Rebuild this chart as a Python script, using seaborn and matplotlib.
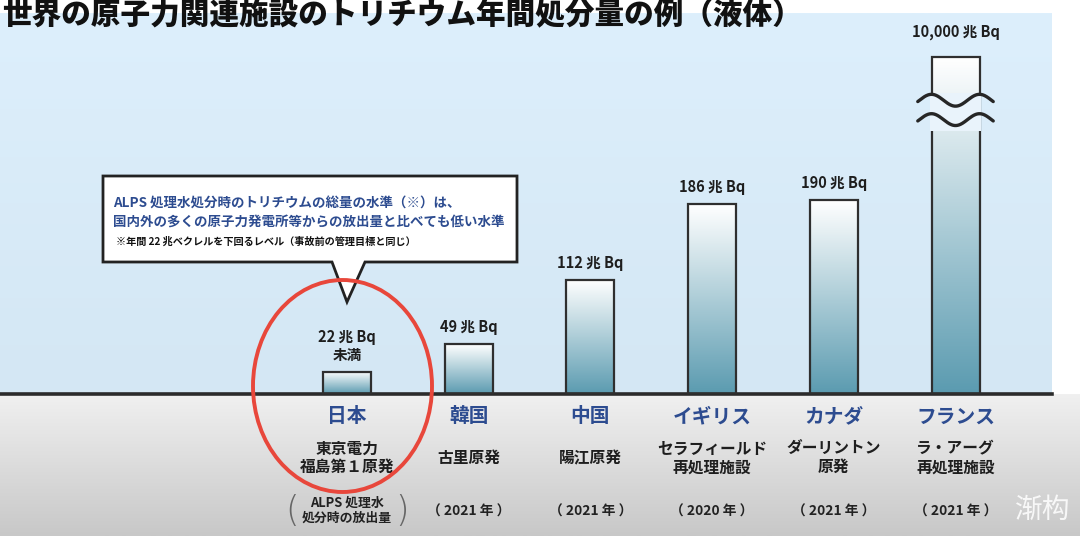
import numpy as np
import matplotlib
matplotlib.use("Agg")  # headless
import matplotlib.pyplot as plt
from matplotlib.colors import LinearSegmentedColormap
from matplotlib.patches import Rectangle, Ellipse, Polygon
import seaborn as sns

sns.set_style("white")
plt.rcParams["font.family"] = ["Noto Sans CJK JP", "DejaVu Sans"]

# ---- data ---------------------------------------------------------------
TITLE = "世界の原子力関連施設のトリチウム年間処分量の例（液体）"
countries = ["日本", "韓国", "中国", "イギリス", "カナダ", "フランス"]
facilities = ["東京電力\n福島第１原発", "古里原発", "陽江原発",
              "セラフィールド\n再処理施設", "ダーリントン\n原発", "ラ・アーグ\n再処理施設"]
periods = ["ALPS 処理水\n処分時の放出量", "（ 2021 年 ）", "（ 2021 年 ）",
           "（ 2020 年 ）", "（ 2021 年 ）", "（ 2021 年 ）"]
tritium_tbq = [22, 49, 112, 186, 190, 10000]   # 兆Bq / year
value_notes = ["未満", "", "", "", "", ""]
callout_lines = ["ALPS 処理水処分時のトリチウムの総量の水準（※）は、",
                 "国内外の多くの原子力発電所等からの放出量と比べても低い水準"]
footnote = "※年間 22 兆ベクレルを下回るレベル（事故前の管理目標と同じ）"

AXIS_BREAK = 330          # taller bars are cut and drawn with a wave break
BREAK_GAP = (258, 295)    # cut-out band on the broken bar (data units)

# ---- layout (pixels) ----------------------------------------------------
W, H = 1080, 536
PX_PER_UNIT = 1.02
AX_R, AX_T, AX_B = 1052, 13, 394
SLOT = 121.7               # px between bar centres
FIRST = 347                # px of first bar centre
BAR_W = 48 / SLOT

BLUE_TOP, BLUE_BOT = "#ddeffc", "#d4e7f4"
TEAL = "#5b9bb0"
NAVY = "#2d4c90"
INK = "#1e1e1e"

shown = [min(v, AXIS_BREAK) for v in tritium_tbq]

fig = plt.figure(figsize=(W / 100, H / 100), dpi=100)

# background: blue plot area + grey floor
bg = fig.add_axes([0, 0, 1, 1], zorder=0)
ramp = np.linspace(0, 1, 128).reshape(-1, 1)
bg.imshow(ramp, cmap=LinearSegmentedColormap.from_list("b", [BLUE_TOP, BLUE_BOT]),
          extent=(0, AX_R, AX_B, AX_T), aspect="auto")
bg.imshow(ramp, cmap=LinearSegmentedColormap.from_list("g", ["#f0f0f0", "#c8c8c8"]),
          extent=(0, W, H, AX_B), aspect="auto")
bg.set_xlim(0, W)
bg.set_ylim(H, 0)
bg.axis("off")

# main bar axes
ax = fig.add_axes([0, 1 - AX_B / H, AX_R / W, (AX_B - AX_T) / H], zorder=1)
ax.patch.set_alpha(0)
sns.barplot(x=countries, y=shown, width=BAR_W, color=TEAL, edgecolor="#2f2f2f",
            linewidth=1.6, ax=ax, zorder=3)

bar_cmap = LinearSegmentedColormap.from_list("bar", [TEAL, "#ffffff"])
for p in ax.patches:
    x0, w, h = p.get_x(), p.get_width(), p.get_height()
    im = ax.imshow(ramp, cmap=bar_cmap, extent=(x0, x0 + w, 0, h),
                   origin="lower", aspect="auto", zorder=2)
    im.set_clip_path(p)
    p.set_facecolor("none")

# wave break on the bars above the cap
for i, v in enumerate(tritium_tbq):
    if v <= AXIS_BREAK:
        continue
    lo, hi = BREAK_GAP
    ax.add_patch(Rectangle((i - BAR_W / 2 - 0.012, lo), BAR_W + 0.024, hi - lo,
                           facecolor="#e9f3fb", edgecolor="none", zorder=4))
    xs = np.linspace(i - 0.31, i + 0.31, 200)
    for yc in (hi - 7, lo + 11):
        ys = yc + 5.8 * np.cos(2 * np.pi * (xs - (i - BAR_W / 2)) / BAR_W)
        ax.plot(xs, ys, color="#262626", lw=2.4, zorder=5, clip_on=False)

# value labels
for i, (v, s, note) in enumerate(zip(tritium_tbq, shown, value_notes)):
    txt = f"{v:,} 兆 Bq" + (f"\n{note}" if note else "")
    lift = 17 if v > AXIS_BREAK else 9
    ax.annotate(txt, (i, s), xytext=(0, lift), textcoords="offset pixels",
                ha="center", va="bottom", fontsize=10.5, fontweight="bold",
                color=INK, linespacing=1.1, annotation_clip=False)

# category labels under the baseline
for i, (c, f, per) in enumerate(zip(countries, facilities, periods)):
    ax.annotate(c, (i, 0), xytext=(0, -23), textcoords="offset pixels",
                ha="center", va="center", fontsize=14.2, fontweight="bold",
                color=NAVY, annotation_clip=False)
    ax.annotate(f, (i, 0), xytext=(0, -64), textcoords="offset pixels",
                ha="center", va="center", fontsize=11.3, fontweight="bold",
                color=INK, linespacing=1.2, annotation_clip=False)
    multi = "\n" in per
    ax.annotate(per, (i, 0), xytext=(0, -116 if multi else -118),
                textcoords="offset pixels", ha="center", va="center",
                fontsize=9.3 if multi else 9.9, fontweight="bold", color="#222222",
                linespacing=1.05, annotation_clip=False)
    if multi:
        for dx, br in ((-55, "("), (55, ")")):
            ax.annotate(br, (i, 0), xytext=(dx, -117), textcoords="offset pixels",
                        ha="center", va="center", fontsize=25, color="#666666",
                        family="DejaVu Sans", fontweight="light",
                        annotation_clip=False)

ax.set_xlim(-FIRST / SLOT, (AX_R - FIRST) / SLOT)
ax.set_ylim(0, (AX_B - AX_T) / PX_PER_UNIT)
ax.set_xticks([])
ax.set_yticks([])
ax.set_xlabel("")
ax.set_ylabel("")
for side in ("top", "left", "right"):
    ax.spines[side].set_visible(False)
ax.spines["bottom"].set_linewidth(2.6)
ax.spines["bottom"].set_color("#2b2b2b")

# overlay: title, callout, highlight circle
ov = fig.add_axes([0, 0, 1, 1], zorder=2)
ov.set_xlim(0, W)
ov.set_ylim(H, 0)
ov.axis("off")
ov.patch.set_alpha(0)

ov.text(2, 16, TITLE, ha="left", va="center", fontsize=21.3,
        fontweight="black", color="#111111")

bubble = [(103, 176), (517, 176), (517, 262), (365, 262),
          (347, 302), (332, 262), (103, 262)]
ov.add_patch(Polygon(bubble, closed=True, facecolor="white",
                     edgecolor="#222222", lw=2, joinstyle="miter"))
ov.text(113, 203, callout_lines[0], ha="left", va="center", fontsize=9.7,
        fontweight="bold", color=NAVY)
ov.text(113, 222, callout_lines[1], ha="left", va="center", fontsize=9.7,
        fontweight="bold", color=NAVY)
ov.text(116, 242, footnote, ha="left", va="center", fontsize=7.3,
        fontweight="bold", color="#111111")

ov.add_patch(Ellipse((342.5, 386), 179, 212, fill=False,
                     edgecolor="#e8473b", lw=2.8))

ov.text(1043, 510, "渐构", ha="center", va="center", fontsize=20,
        color="white", alpha=0.85, family=["Noto Sans CJK SC"])

fig.savefig("out.png", dpi=100)
